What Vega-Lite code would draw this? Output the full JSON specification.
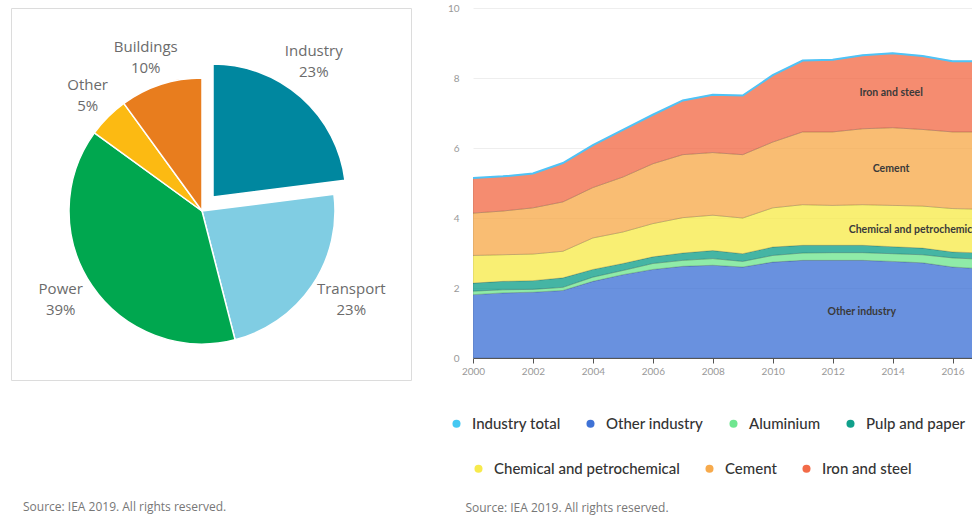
{
  "$schema": "https://vega.github.io/schema/vega-lite/v6.json",
  "background": "white",
  "padding": {"left": 10, "top": 3, "right": 0, "bottom": 12},
  "config": {"view": {"stroke": null}, "font": "Lato", "concat": {"spacing": 35}},
  "resolve": {"scale": {"color": "independent"}, "legend": {"color": "independent"}},
  "datasets": {
    "shares": [
      {"sector": "Industry", "share": 23},
      {"sector": "Transport", "share": 23},
      {"sector": "Power", "share": 39},
      {"sector": "Other", "share": 5},
      {"sector": "Buildings", "share": 10}
    ],
    "industry": [
      {"year": 2000, "Other industry": 1.81, "Aluminium": 0.10, "Pulp and paper": 0.23, "Chemical and petrochemical": 0.79, "Cement": 1.21, "Iron and steel": 1.00, "Industry total": 5.14},
      {"year": 2001, "Other industry": 1.86, "Aluminium": 0.09, "Pulp and paper": 0.24, "Chemical and petrochemical": 0.76, "Cement": 1.25, "Iron and steel": 0.99, "Industry total": 5.19},
      {"year": 2002, "Other industry": 1.88, "Aluminium": 0.08, "Pulp and paper": 0.25, "Chemical and petrochemical": 0.76, "Cement": 1.32, "Iron and steel": 0.98, "Industry total": 5.27},
      {"year": 2003, "Other industry": 1.93, "Aluminium": 0.09, "Pulp and paper": 0.27, "Chemical and petrochemical": 0.76, "Cement": 1.41, "Iron and steel": 1.11, "Industry total": 5.57},
      {"year": 2004, "Other industry": 2.19, "Aluminium": 0.12, "Pulp and paper": 0.22, "Chemical and petrochemical": 0.90, "Cement": 1.44, "Iron and steel": 1.21, "Industry total": 6.08},
      {"year": 2005, "Other industry": 2.38, "Aluminium": 0.12, "Pulp and paper": 0.20, "Chemical and petrochemical": 0.90, "Cement": 1.57, "Iron and steel": 1.35, "Industry total": 6.52},
      {"year": 2006, "Other industry": 2.53, "Aluminium": 0.17, "Pulp and paper": 0.19, "Chemical and petrochemical": 0.95, "Cement": 1.71, "Iron and steel": 1.40, "Industry total": 6.95},
      {"year": 2007, "Other industry": 2.62, "Aluminium": 0.17, "Pulp and paper": 0.21, "Chemical and petrochemical": 1.01, "Cement": 1.80, "Iron and steel": 1.55, "Industry total": 7.36},
      {"year": 2008, "Other industry": 2.65, "Aluminium": 0.19, "Pulp and paper": 0.23, "Chemical and petrochemical": 1.01, "Cement": 1.79, "Iron and steel": 1.65, "Industry total": 7.52},
      {"year": 2009, "Other industry": 2.60, "Aluminium": 0.16, "Pulp and paper": 0.22, "Chemical and petrochemical": 1.02, "Cement": 1.81, "Iron and steel": 1.69, "Industry total": 7.50},
      {"year": 2010, "Other industry": 2.74, "Aluminium": 0.19, "Pulp and paper": 0.24, "Chemical and petrochemical": 1.12, "Cement": 1.88, "Iron and steel": 1.91, "Industry total": 8.08},
      {"year": 2011, "Other industry": 2.79, "Aluminium": 0.21, "Pulp and paper": 0.22, "Chemical and petrochemical": 1.16, "Cement": 2.08, "Iron and steel": 2.04, "Industry total": 8.50},
      {"year": 2012, "Other industry": 2.79, "Aluminium": 0.22, "Pulp and paper": 0.21, "Chemical and petrochemical": 1.14, "Cement": 2.10, "Iron and steel": 2.06, "Industry total": 8.52},
      {"year": 2013, "Other industry": 2.79, "Aluminium": 0.22, "Pulp and paper": 0.21, "Chemical and petrochemical": 1.16, "Cement": 2.17, "Iron and steel": 2.10, "Industry total": 8.65},
      {"year": 2014, "Other industry": 2.76, "Aluminium": 0.22, "Pulp and paper": 0.20, "Chemical and petrochemical": 1.18, "Cement": 2.22, "Iron and steel": 2.13, "Industry total": 8.71},
      {"year": 2015, "Other industry": 2.72, "Aluminium": 0.23, "Pulp and paper": 0.19, "Chemical and petrochemical": 1.20, "Cement": 2.19, "Iron and steel": 2.10, "Industry total": 8.63},
      {"year": 2016, "Other industry": 2.60, "Aluminium": 0.26, "Pulp and paper": 0.17, "Chemical and petrochemical": 1.24, "Cement": 2.19, "Iron and steel": 2.02, "Industry total": 8.48},
      {"year": 2017, "Other industry": 2.55, "Aluminium": 0.27, "Pulp and paper": 0.18, "Chemical and petrochemical": 1.25, "Cement": 2.21, "Iron and steel": 2.02, "Industry total": 8.48}
    ],
    "labels": [
      {"label": "Iron and steel", "year": 2013.95, "value": 7.57},
      {"label": "Cement", "year": 2013.95, "value": 5.41},
      {"label": "Chemical and petrochemical", "year": 2014.73, "value": 3.66},
      {"label": "Other industry", "year": 2012.97, "value": 1.31}
    ]
  },
  "hconcat": [
    {
      "width": 400,
      "height": 372,
      "view": {"stroke": "#dcdcdc"},
      "title": {"text": "Source: IEA 2019. All rights reserved.", "orient": "bottom", "anchor": "start", "offset": 122, "dx": 12, "fontSize": 12, "fontWeight": "normal", "color": "#777777", "font": "Open Sans"},
      "data": {"name": "shares"},
      "transform": [
        {"calculate": "indexof(['Industry','Transport','Power','Other','Buildings'], datum.sector)", "as": "idx"},
        {"calculate": "datum.sector + '\\n' + datum.share + '%'", "as": "label"}
      ],
      "encoding": {
        "theta": {"field": "share", "type": "quantitative", "stack": true},
        "order": {"field": "idx", "type": "quantitative"}
      },
      "layer": [
        {
          "mark": {"type": "arc", "outerRadius": 133, "stroke": "white", "strokeWidth": 1.5, "xOffset": -9, "yOffset": 17},
          "encoding": {
            "color": {"field": "sector", "type": "nominal", "scale": {"domain": ["Industry", "Transport", "Power", "Other", "Buildings"], "range": ["#00879f", "#80cde3", "#00a74f", "#fcba12", "#e87d1e"]}, "legend": null},
            "opacity": {"condition": {"test": "datum.sector === 'Industry'", "value": 0}, "value": 1}
          }
        },
        {
          "mark": {"type": "arc", "outerRadius": 133, "stroke": "white", "strokeWidth": 1.5, "xOffset": 2, "yOffset": 3},
          "encoding": {
            "color": {"field": "sector", "type": "nominal", "legend": null},
            "opacity": {"condition": {"test": "datum.sector === 'Industry'", "value": 1}, "value": 0}
          }
        },
        {
          "mark": {"type": "text", "radius": 166, "lineBreak": "\n", "font": "Open Sans", "fontSize": 15, "lineHeight": 21, "baseline": "middle", "dy": -10.5, "color": "#6b6b6b", "xOffset": -7, "yOffset": -7.5},
          "encoding": {
            "text": {"field": "label"},
            "opacity": {"condition": {"test": "datum.sector === 'Industry'", "value": 1}, "value": 0}
          }
        },
        {
          "mark": {"type": "text", "radius": 166, "lineBreak": "\n", "font": "Open Sans", "fontSize": 15, "lineHeight": 21, "baseline": "middle", "dy": -10.5, "color": "#6b6b6b", "xOffset": 3, "yOffset": 12},
          "encoding": {
            "text": {"field": "label"},
            "opacity": {"condition": {"test": "datum.sector === 'Transport'", "value": 1}, "value": 0}
          }
        },
        {
          "mark": {"type": "text", "radius": 166, "lineBreak": "\n", "font": "Open Sans", "fontSize": 15, "lineHeight": 21, "baseline": "middle", "dy": -10.5, "color": "#6b6b6b", "xOffset": -13, "yOffset": 12},
          "encoding": {
            "text": {"field": "label"},
            "opacity": {"condition": {"test": "datum.sector === 'Power'", "value": 1}, "value": 0}
          }
        },
        {
          "mark": {"type": "text", "radius": 166, "lineBreak": "\n", "font": "Open Sans", "fontSize": 15, "lineHeight": 21, "baseline": "middle", "dy": -10.5, "color": "#6b6b6b", "xOffset": -6, "yOffset": 19},
          "encoding": {
            "text": {"field": "label"},
            "opacity": {"condition": {"test": "datum.sector === 'Other'", "value": 1}, "value": 0}
          }
        },
        {
          "mark": {"type": "text", "radius": 166, "lineBreak": "\n", "font": "Open Sans", "fontSize": 15, "lineHeight": 21, "baseline": "middle", "dy": -10.5, "color": "#6b6b6b", "xOffset": -14, "yOffset": 21},
          "encoding": {
            "text": {"field": "label"},
            "opacity": {"condition": {"test": "datum.sector === 'Buildings'", "value": 1}, "value": 0}
          }
        }
      ]
    },
    {
      "width": 499,
      "height": 350,
      "title": {"text": "Source: IEA 2019. All rights reserved.", "orient": "bottom", "anchor": "start", "offset": 26, "dx": 18, "fontSize": 12, "fontWeight": "normal", "color": "#777777", "font": "Open Sans"},
      "resolve": {"scale": {"color": "independent"}, "legend": {"color": "independent"}},
      "layer": [
        {
          "data": {"name": "industry"},
          "transform": [
            {"fold": ["Other industry", "Aluminium", "Pulp and paper", "Chemical and petrochemical", "Cement", "Iron and steel"], "as": ["sector", "value"]},
            {"calculate": "indexof(['Other industry','Aluminium','Pulp and paper','Chemical and petrochemical','Cement','Iron and steel'], datum.sector)", "as": "idx"}
          ],
          "mark": {"type": "area", "clip": true, "fillOpacity": 0.78, "stroke": "#000000", "strokeOpacity": 0.18, "strokeWidth": 0.8},
          "encoding": {
            "x": {"field": "year", "type": "quantitative", "scale": {"domain": [2000, 2016.65], "nice": false, "zero": false},
              "axis": {"values": [2000, 2002, 2004, 2006, 2008, 2010, 2012, 2014, 2016], "format": "d", "title": null, "grid": false, "labelFlush": false, "labelColor": "#999999", "labelFontSize": 10, "tickColor": "#555555", "tickSize": 5, "domainColor": "#555555", "labelPadding": 3}},
            "y": {"field": "value", "type": "quantitative", "stack": "zero", "scale": {"domain": [0, 10], "nice": false},
              "axis": {"values": [0, 2, 4, 6, 8, 10], "title": null, "domain": false, "ticks": false, "gridColor": "#eeeeee", "labelColor": "#999999", "labelFontSize": 10, "labelPadding": 14}},
            "color": {"field": "sector", "type": "nominal",
              "scale": {"domain": ["Industry total", "Other industry", "Aluminium", "Pulp and paper", "Chemical and petrochemical", "Cement", "Iron and steel"],
                        "range": ["#45c8f2", "#3f72d6", "#6fe690", "#11a08b", "#f7ea4c", "#f7aa4c", "#f26b48"]},
              "legend": {"values": ["Industry total", "Other industry", "Aluminium", "Pulp and paper"], "title": null, "orient": "none", "legendX": -24, "legendY": 408, "direction": "horizontal", "columnPadding": 22, "symbolType": "circle", "symbolSize": 65, "symbolOpacity": 1, "symbolStrokeWidth": 0, "labelOffset": 8, "labelFontSize": 15, "labelColor": "#333333", "labelFont": "Lato", "labelFontWeight": 500, "labelLimit": 300}},
            "order": {"field": "idx", "type": "quantitative"}
          }
        },
        {
          "data": {"name": "industry"},
          "transform": [
            {"fold": ["Chemical and petrochemical", "Cement", "Iron and steel"], "as": ["sector", "value"]}
          ],
          "mark": {"type": "area", "clip": true, "fillOpacity": 0, "strokeOpacity": 0},
          "encoding": {
            "x": {"field": "year", "type": "quantitative"},
            "y": {"field": "value", "type": "quantitative", "stack": "zero"},
            "color": {"field": "sector", "type": "nominal",
              "scale": {"domain": ["Industry total", "Other industry", "Aluminium", "Pulp and paper", "Chemical and petrochemical", "Cement", "Iron and steel"],
                        "range": ["#45c8f2", "#3f72d6", "#6fe690", "#11a08b", "#f7ea4c", "#f7aa4c", "#f26b48"]},
              "legend": {"values": ["Chemical and petrochemical", "Cement", "Iron and steel"], "title": null, "orient": "none", "legendX": -2, "legendY": 453, "direction": "horizontal", "columnPadding": 22, "symbolType": "circle", "symbolSize": 65, "symbolOpacity": 1, "symbolStrokeWidth": 0, "labelOffset": 8, "labelFontSize": 15, "labelColor": "#333333", "labelFont": "Lato", "labelFontWeight": 500, "labelLimit": 300}}
          }
        },
        {
          "data": {"name": "industry"},
          "mark": {"type": "line", "clip": true, "color": "#4fc3f7", "strokeWidth": 2},
          "encoding": {
            "x": {"field": "year", "type": "quantitative"},
            "y": {"field": "Industry total", "type": "quantitative"}
          }
        },
        {
          "data": {"name": "labels"},
          "mark": {"type": "text", "clip": true, "fontSize": 10.5, "fontWeight": "bold", "color": "#3a3a3a", "font": "Lato"},
          "encoding": {
            "x": {"field": "year", "type": "quantitative"},
            "y": {"field": "value", "type": "quantitative"},
            "text": {"field": "label"}
          }
        }
      ]
    }
  ]
}
